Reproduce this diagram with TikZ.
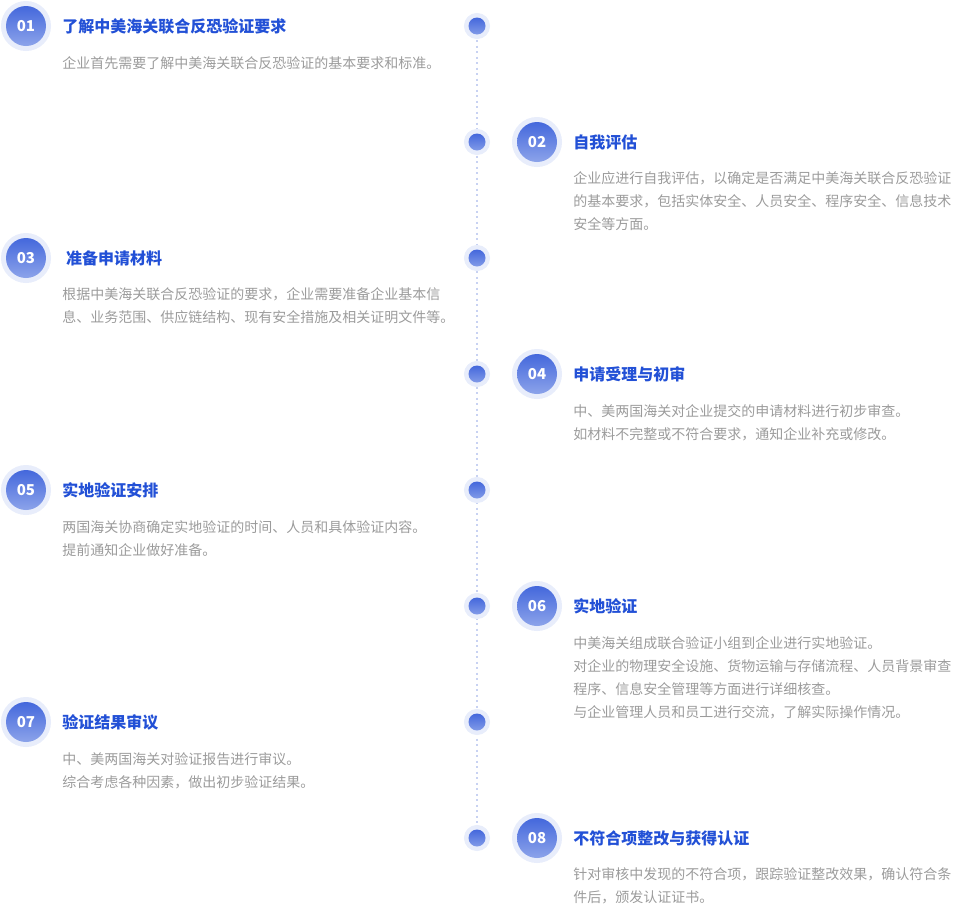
\documentclass[tikz,border=0pt]{standalone}
\usepackage{fontspec}
\setmainfont{Noto Sans CJK SC}
\usetikzlibrary{positioning,backgrounds}
\definecolor{halo}{HTML}{E8EDFB}
\definecolor{badgetop}{HTML}{4468DC}
\definecolor{badgebot}{HTML}{8CA3EA}
\definecolor{titleblue}{HTML}{2250D6}
\definecolor{descgray}{HTML}{9B9B9B}
\definecolor{railcol}{HTML}{C8D2F2}
\tikzset{
    badge/.style={circle,minimum size=40pt,inner sep=0pt,top color=badgetop,bottom color=badgebot,
        preaction={draw=halo,line width=10pt},text=white,font=\fontsize{15}{15}\selectfont\bfseries},
    railbead/.style={circle,minimum size=17pt,inner sep=0pt,top color=badgetop,bottom color=badgebot!85!badgetop,
        preaction={draw=halo,line width=9pt}},
    steptitle/.style={anchor=west,inner sep=0pt,text=titleblue,font=\fontsize{16}{16}\selectfont\bfseries},
    stepdesc/.style={anchor=north west,inner sep=0pt,align=left,text=descgray,font=\fontsize{14}{23}\selectfont},
    rail/.style={railcol,line width=1.5pt,dash pattern=on 2pt off 3.5pt}
}
\begin{document}
\begin{tikzpicture}[x=1pt,y=-1pt]
    \useasboundingbox (0,0) rectangle (959,908);
    % beads on the timeline
    \foreach \i in {1,...,8}{
        \node[railbead] (t\i) at (477,{26+116*(\i-1)}) {};
    }
    \begin{scope}[on background layer]
        \draw[rail] (t1) -- (t8);
    \end{scope}
    % steps, left and right of the timeline
    \foreach \i/\x/\ttl/\dsc in {
        1/26/{了解中美海关联合反恐验证要求}/{企业首先需要了解中美海关联合反恐验证的基本要求和标准。},
        2/537/{自我评估}/{企业应进行自我评估，以确定是否满足中美海关联合反恐验证\\的基本要求，包括实体安全、人员安全、程序安全、信息技术\\安全等方面。},
        3/26/{\ 准备申请材料}/{根据中美海关联合反恐验证的要求，企业需要准备企业基本信\\息、业务范围、供应链结构、现有安全措施及相关证明文件等。},
        4/537/{申请受理与初审}/{中、美两国海关对企业提交的申请材料进行初步审查。\\如材料不完整或不符合要求，通知企业补充或修改。},
        5/26/{实地验证安排}/{两国海关协商确定实地验证的时间、人员和具体验证内容。\\提前通知企业做好准备。},
        6/537/{实地验证}/{中美海关组成联合验证小组到企业进行实地验证。\\对企业的物理安全设施、货物运输与存储流程、人员背景审查\\程序、信息安全管理等方面进行详细核查。\\与企业管理人员和员工进行交流，了解实际操作情况。},
        7/26/{验证结果审议}/{中、美两国海关对验证报告进行审议。\\综合考虑各种因素，做出初步验证结果。},
        8/537/{不符合项整改与获得认证}/{针对审核中发现的不符合项，跟踪验证整改效果，确认符合条\\件后，颁发认证证书。}}{
        \node[badge] (b\i) at (\x,{26+116*(\i-1)}) {0\i};
        \node[steptitle,right=16pt of b\i] (h\i) {\ttl};
        \node[stepdesc,below=22pt of h\i.south west,anchor=north west] (d\i) {\dsc};
    }
\end{tikzpicture}
\end{document}
